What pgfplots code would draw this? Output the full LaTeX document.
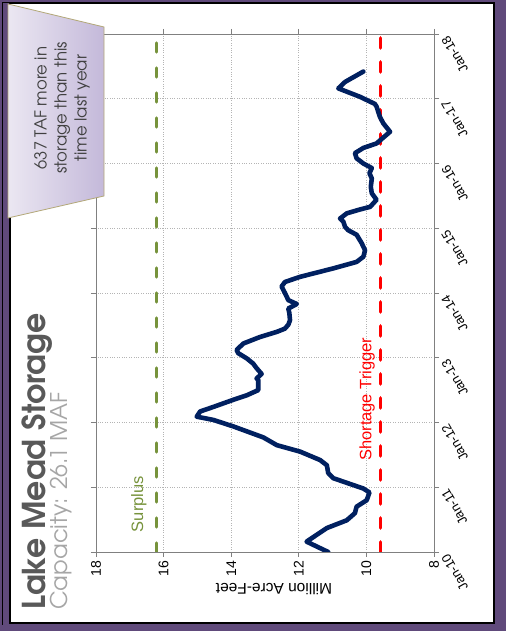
\documentclass[border=0pt]{standalone}
\usepackage{pgfplots}
\pgfplotsset{compat=1.18}
\usepackage{fontspec}
\setmainfont{Liberation Sans}
\newfontfamily\gothic{texgyreadventor}[Extension=.otf, UprightFont=*-regular, BoldFont=*-bold]

\definecolor{slide}{HTML}{604A7B}
\definecolor{lakeline}{HTML}{002060}
\definecolor{surplus}{HTML}{77933C}
\definecolor{shortage}{HTML}{FF0000}
\definecolor{titlegray}{HTML}{595959}
\definecolor{subgray}{HTML}{A6A6A6}
\definecolor{calloutdark}{HTML}{C4B9DA}
\definecolor{calloutlight}{HTML}{EBE7F2}
\definecolor{calloutedge}{HTML}{B3A878}
\definecolor{gridgray}{HTML}{B4B4B4}
\definecolor{axisgray}{HTML}{808080}

\begin{document}
\begin{tikzpicture}[x=1pt, y=1pt]
\useasboundingbox (0,0) rectangle (506,631);
% slide background and white panel
\fill[slide] (0,0) rectangle (506,631);
\filldraw[fill=white, draw=black, line width=1.5pt] (10,8) rectangle (494,628);
\draw[black, line width=1.3pt] (2.2,6) -- (2.2,628.3) -- (494,628.3);

\begin{axis}[
  at={(265pt,338pt)}, anchor=center,
  scale only axis, width=338pt, height=518pt,
  xmin=8, xmax=18, x dir=reverse,
  ymin=0, ymax=8,
  xtick={8,10,...,18},
  ytick={0,1,...,8},
  yticklabels={Jan-10,Jan-11,Jan-12,Jan-13,Jan-14,Jan-15,Jan-16,Jan-17,Jan-18},
  yticklabel pos=right,
  yticklabel shift=4pt,
  grid=major,
  grid style={gridgray, dotted, line width=0.8pt},
  axis line style={axisgray, line width=0.9pt},
  tick style={axisgray, line width=0.8pt},
  tick align=outside, major tick length=5pt,
  /pgf/number format/assume math mode=true,
  xticklabel style={rotate=90, anchor=east, font=\fontsize{14}{14}\selectfont, black},
  yticklabel style={rotate=120, anchor=east, font=\fontsize{13}{13}\selectfont, black},
  xlabel={Million Acre-Feet},
  xlabel style={rotate=180, anchor=south, xshift=-9pt, font=\fontsize{15.5}{15.5}\selectfont},
]
% surplus and shortage thresholds
\addplot[surplus, line width=3.3pt, line cap=round, dash pattern=on 9pt off 16pt]
  coordinates {(16.2,0) (16.2,8)};
\addplot[shortage, line width=3.6pt, line cap=round, dash pattern=on 10pt off 14pt]
  coordinates {(9.58,0) (9.58,8)};
% end-of-month storage
\addplot[lakeline, line width=4.6pt, line join=round, line cap=round] coordinates {
(11.13,0.00) (11.77,0.16) (11.17,0.37) (10.58,0.49) (10.34,0.60) (10.29,0.70)
(9.99,0.80) (9.91,0.92) (10.09,0.98) (10.98,1.14) (11.13,1.22) (11.17,1.34)
(11.37,1.42) (11.96,1.55) (12.65,1.65) (13.05,1.77) (13.94,1.94) (14.53,2.04)
(15.02,2.09) (14.92,2.17) (14.53,2.24) (13.94,2.35) (13.54,2.42) (13.20,2.50)
(13.20,2.66) (13.25,2.68) (13.10,2.75) (13.25,2.84) (13.35,2.91) (13.54,2.99)
(13.79,3.07) (13.84,3.12) (13.64,3.22) (13.15,3.32) (12.65,3.40) (12.41,3.45)
(12.31,3.51) (12.26,3.58) (12.28,3.69) (12.31,3.76) (12.06,3.83) (12.31,3.89)
(12.41,4.00) (12.51,4.10) (12.41,4.17) (11.96,4.25) (10.98,4.38) (10.29,4.48)
(10.09,4.56) (10.04,4.66) (10.14,4.77) (10.29,4.90) (10.54,4.97) (10.63,5.02)
(10.68,5.10) (10.78,5.15) (10.58,5.23) (10.19,5.29) (9.89,5.33) (9.70,5.44)
(9.84,5.54) (9.87,5.64) (9.84,5.77) (9.91,5.85) (9.84,5.93) (10.09,6.00)
(10.29,6.08) (10.34,6.16) (10.09,6.24) (9.70,6.31) (9.30,6.49) (9.50,6.62)
(9.60,6.72) (9.70,6.88) (9.75,6.92) (10.19,7.03) (10.83,7.16) (10.63,7.26)
(10.09,7.42)
};
\node[rotate=90, text=surplus, font=\fontsize{16.5}{16.5}\selectfont] at (axis cs:16.73,0.74) {Surplus};
\node[rotate=90, text=shortage, font=\fontsize{16.5}{16.5}\selectfont] at (axis cs:9.98,2.36) {Shortage Trigger};
\end{axis}

% titles
\node[rotate=90, anchor=base west, inner sep=0pt, text=titlegray,
      font=\gothic\bfseries\fontsize{31.5}{31.5}\selectfont] at (45.5,21) {Lake Mead Storage};
\node[rotate=90, anchor=base west, inner sep=0pt, text=subgray,
      font=\gothic\fontsize{23}{23}\selectfont] at (67,21) {Capacity: 26.1 MAF};

% callout
\draw[calloutedge, line width=0.8pt, left color=calloutlight, right color=calloutdark]
  (8,627) -- (104,604) -- (104,435) -- (8,413) -- cycle;
\node[rotate=90, align=center, text=black!75, font=\gothic\fontsize{16.5}{20}\selectfont]
  at (62,523) {637 TAF more in\\storage than this\\time last year};
\end{tikzpicture}
\end{document}
